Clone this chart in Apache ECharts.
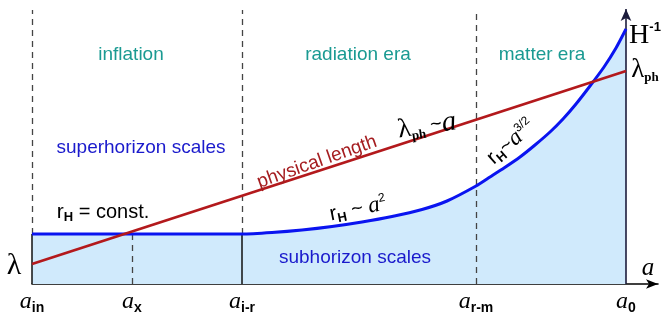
<!DOCTYPE html>
<html><head><meta charset="utf-8">
<script src="https://cdn.jsdelivr.net/npm/echarts@6/dist/echarts.min.js"></script>
<style>html,body{margin:0;padding:0;background:#fff}#c{width:671px;height:312px}</style>
</head><body><div id="c"></div>
<script>
// ---- data (schematic units: x = scale factor a, y = length) ----
const tickNames  = ['in', 'x', 'i-r', 'r-m', '0'];
const tickValues = [0, 100, 210, 444, 594];
const horizonX = [0, 210, 240, 270, 300, 330, 360, 390, 415, 444, 458, 472, 488, 503, 518, 531, 544, 558, 572, 584, 594];
const horizonY = [50, 50, 51.5, 54, 57.5, 62, 67.5, 74.5, 83, 98, 107, 116, 127, 139, 152, 165, 180, 198, 217, 236, 255];
const physX = [0, 594];
const physY = [20, 213];
const xMax = 626, yMax = 275, lineTop = 274, flatLevel = 50;

const chart = echarts.init(document.getElementById('c'), null, {renderer: 'canvas'});
const zip = (a, b) => a.map((v, i) => [v, b[i]]);

const dashed = {color: '#444', type: [6, 5], width: 1.3};
const solid = {color: '#111', type: 'solid', width: 1.5};
const seg = (x, y0, y1, style) => [{coord: [x, y0], lineStyle: style}, {coord: [x, y1]}];

const vlines = [
  seg(tickValues[0], flatLevel, lineTop, dashed),
  seg(tickValues[0], 0, flatLevel, solid),
  seg(tickValues[1], 0, flatLevel, dashed),
  seg(tickValues[2], flatLevel, lineTop, dashed),
  seg(tickValues[2], 0, flatLevel, solid),
  seg(tickValues[3], 0, lineTop, dashed)
];

const blue = '#1a1acc';
const serif = '"Liberation Serif", "DejaVu Serif", serif';
const sans = '"Liberation Sans", Arial, sans-serif';

function txt(x, y, text, rich, opts) {
  return Object.assign({
    type: 'text', x: x, y: y, z: 100,
    style: Object.assign({text: text, rich: rich || {}, align: 'center', verticalAlign: 'middle',
      font: '19px ' + sans, fill: '#000'}, (opts && opts.style) || {})
  }, opts && opts.rotation ? {rotation: opts.rotation} : {});
}

const richR = {
  r: {fontFamily: sans, fontSize: 21, color: blue, lineHeight: 24},
  h: {fontFamily: sans, fontSize: 13, fontWeight: 'bold', color: blue, verticalAlign: 'bottom', padding: [9, 0, 0, 0]},
  t: {fontFamily: sans, fontSize: 20, color: blue},
  a: {fontFamily: serif, fontStyle: 'italic', fontSize: 23, color: blue},
  s: {fontFamily: sans, fontSize: 12, color: blue, verticalAlign: 'top', padding: [0, 0, 10, 0]}
};

const option = {
  animation: false,
  grid: {left: 32, right: 13, top: 9, bottom: 28, outerBoundsMode: 'none', containLabel: false},
  xAxis: {
    type: 'value', min: 0, max: xMax,
    splitLine: {show: false},
    axisLine: {show: true, lineStyle: {color: '#000', width: 1.6}, symbol: ['none', 'arrow'], symbolSize: [7, 12]},
    axisTick: {show: false},
    axisLabel: {
      show: true, customValues: tickValues, margin: 5,
      formatter: v => '{a|a}{s|' + tickNames[tickValues.indexOf(v)] + '}',
      rich: {
        a: {fontFamily: serif, fontStyle: 'italic', fontSize: 24, color: '#000', lineHeight: 26},
        s: {fontFamily: sans, fontWeight: 'bold', fontSize: 14, color: '#000', verticalAlign: 'bottom', padding: [10, 0, 0, 0]}
      }
    }
  },
  yAxis: {type: 'value', min: 0, max: yMax, show: false},
  series: [
    {
      type: 'line', data: zip(horizonX, horizonY), smooth: 0.2,
      symbol: 'none', z: 2,
      lineStyle: {width: 0, opacity: 0},
      areaStyle: {color: '#d0eafc', opacity: 1}
    },
    {
      type: 'line', data: [], z: 4,
      markLine: {silent: true, symbol: ['none', 'none'], label: {show: false}, data: vlines}
    },
    {
      type: 'line', data: zip(horizonX, horizonY), smooth: 0.2,
      symbol: 'none', z: 6,
      lineStyle: {color: '#0a14f0', width: 3}
    },
    {
      type: 'line', data: [], z: 6,
      markLine: {silent: true, symbol: ['none', 'arrow'], symbolSize: [8, 12], label: {show: false},
        lineStyle: {color: '#1c1c3c', width: 1.6, type: 'solid'},
        data: [[{coord: [tickValues[4], 0]}, {coord: [tickValues[4], yMax]}]]}
    },
    {
      type: 'line', data: zip(physX, physY), symbol: 'none', z: 7,
      lineStyle: {color: '#b3191c', width: 2.8}
    }
  ],
  graphic: [
    txt(131, 55, 'inflation', null, {style: {fill: '#1a9a92', font: '19px ' + sans}}),
    txt(358, 55, 'radiation era', null, {style: {fill: '#1a9a92', font: '19px ' + sans}}),
    txt(542, 55, 'matter era', null, {style: {fill: '#1a9a92', font: '19px ' + sans}}),
    txt(141, 148, 'superhorizon scales', null, {style: {fill: blue, font: '19px ' + sans}}),
    txt(355, 258, 'subhorizon scales', null, {style: {fill: blue, font: '19px ' + sans}}),
    txt(317, 162, 'physical length', null, {rotation: 0.34, style: {fill: '#a51d20', font: '19px ' + sans}}),
    txt(427, 126, '{l|λ}{p|ph} {t|~}{a|a}', {
      l: {fontFamily: serif, fontSize: 27, color: '#000', lineHeight: 28},
      p: {fontFamily: serif, fontWeight: 'bold', fontSize: 13, color: '#000', verticalAlign: 'bottom', padding: [10, 0, 0, 0]},
      t: {fontFamily: sans, fontSize: 20, color: '#000'},
      a: {fontFamily: serif, fontStyle: 'italic', fontSize: 29, color: '#000'}
    }, {rotation: 0.15}),
    txt(103, 212, '{r|r}{h|H}{t| = const.}', richR),
    txt(358, 209, '{r|r}{h|H}{t| ~ }{a|a}{s|2}', richR, {rotation: 0.2}),
    txt(511, 142, '{r|r}{h|H}{t|~}{a|a}{s|3/2}', richR, {rotation: 0.72}),
    txt(14, 266, '{l|λ}', {l: {fontFamily: serif, fontSize: 30, color: '#000'}}),
    txt(648, 268, '{a|a}', {a: {fontFamily: serif, fontStyle: 'italic', fontSize: 25, color: '#000'}}),
    txt(645, 36, '{h|H}{s|-1}', {
      h: {fontFamily: serif, fontSize: 28, color: blue, lineHeight: 30},
      s: {fontFamily: sans, fontWeight: 'bold', fontSize: 13, color: blue, verticalAlign: 'top', padding: [0, 0, 14, 0]}
    }),
    txt(645, 70, '{l|λ}{p|ph}', {
      l: {fontFamily: serif, fontSize: 27, color: '#000', lineHeight: 28},
      p: {fontFamily: serif, fontWeight: 'bold', fontSize: 13, color: '#000', verticalAlign: 'bottom', padding: [10, 0, 0, 0]}
    })
  ]
};
chart.setOption(option);
</script></body></html>
